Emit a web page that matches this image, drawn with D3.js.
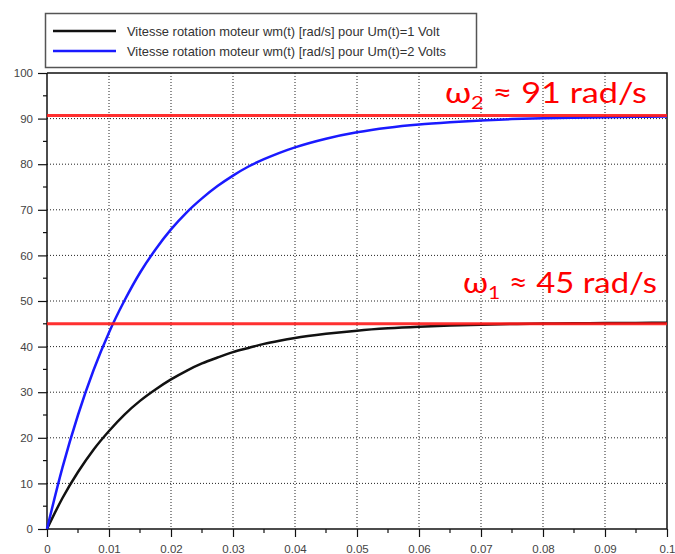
<!DOCTYPE html>
<html>
<head>
<meta charset="utf-8">
<script src="https://cdn.jsdelivr.net/npm/d3@7"></script>
<style>
  html, body { margin: 0; padding: 0; background: #fff; }
  svg { display: block; }
</style>
</head>
<body>
<svg id="chart" width="675" height="554"></svg>
<script>
// ---- data ----
const time = [0, 0.0025, 0.005, 0.0075, 0.01, 0.0125, 0.015, 0.0175, 0.02, 0.0225, 0.025, 0.0275,
  0.03, 0.0325, 0.035, 0.0375, 0.04, 0.045, 0.05, 0.055, 0.06, 0.065, 0.07, 0.075, 0.08,
  0.085, 0.09, 0.095, 0.1];
const speed1V = [0, 6.8, 12.5, 17.4, 21.5, 25.1, 28.1, 30.6, 32.8, 34.7, 36.3, 37.6,
  38.8, 39.7, 40.6, 41.3, 41.9, 42.8, 43.5, 44.0, 44.35, 44.6, 44.8, 44.95, 45.05,
  45.1, 45.15, 45.2, 45.25];
const speed2V = [0, 13.5, 25.0, 34.8, 43.1, 50.1, 56.2, 61.3, 65.7, 69.4, 72.5, 75.2,
  77.5, 79.5, 81.1, 82.5, 83.7, 85.6, 87.0, 88.0, 88.7, 89.2, 89.6, 89.9, 90.1,
  90.2, 90.3, 90.4, 90.45];
const seriesNames = [
  "Vitesse rotation moteur wm(t) [rad/s] pour Um(t)=1 Volt",
  "Vitesse rotation moteur wm(t) [rad/s] pour Um(t)=2 Volts"
];
const seriesColors = ["#111111", "#1a1aff"];
const refLevels = [90.7, 45];
const refLabels = [
  { sym: "ω", sub: "2", rest: " ≈ 91 rad/s" },
  { sym: "ω", sub: "1", rest: " ≈ 45 rad/s" }
];
const xTicks = [0, 0.01, 0.02, 0.03, 0.04, 0.05, 0.06, 0.07, 0.08, 0.09, 0.1];
const yTicks = [0, 10, 20, 30, 40, 50, 60, 70, 80, 90, 100];

// ---- layout ----
const svg = d3.select("#chart");
const L = 47, R = 667, T = 73, B = 529;
const x = d3.scaleLinear().domain([0, 0.1]).range([L, R]);
const y = d3.scaleLinear().domain([0, 100]).range([B, T]);

// grid
const grid = svg.append("g").attr("stroke", "#222").attr("stroke-width", 1)
  .attr("stroke-dasharray", "1,2");
grid.selectAll("line.gx").data(xTicks.filter(d => d > 0 && d < 0.1)).join("line")
  .attr("x1", d => x(d)).attr("x2", d => x(d)).attr("y1", T).attr("y2", B);
grid.selectAll("line.gy").data(yTicks.filter(d => d > 0 && d < 100)).join("line")
  .attr("y1", d => y(d)).attr("y2", d => y(d)).attr("x1", L).attr("x2", R);

// axes
const fmtX = d => d === 0 ? "0" : String(+d.toFixed(2));
const xAxis = d3.axisBottom(x).tickValues(xTicks).tickSize(8).tickPadding(8).tickFormat(fmtX);
const yAxis = d3.axisLeft(y).tickValues(yTicks).tickSize(9).tickPadding(5);
const gx = svg.append("g").attr("transform", `translate(0,${B})`).call(xAxis);
const gy = svg.append("g").attr("transform", `translate(${L},0)`).call(yAxis);
// minor ticks
const xMinor = d3.range(0, 10).map(i => i * 0.01 + 0.005);
const yMinor = d3.range(0, 10).map(i => i * 10 + 5);
svg.append("g").selectAll("line").data(xMinor).join("line")
  .attr("x1", d => x(d)).attr("x2", d => x(d)).attr("y1", B).attr("y2", B + 4)
  .attr("stroke", "#111").attr("stroke-width", 1.2);
svg.append("g").selectAll("line").data(yMinor).join("line")
  .attr("y1", d => y(d)).attr("y2", d => y(d)).attr("x1", L - 4).attr("x2", L)
  .attr("stroke", "#111").attr("stroke-width", 1.2);
[gx, gy].forEach(g => {
  g.select(".domain").attr("stroke", "#111").attr("stroke-width", 1.5);
  g.selectAll(".tick line").attr("stroke", "#111").attr("stroke-width", 1.2);
  g.selectAll(".tick text").attr("fill", "#444").attr("font-size", 11.5)
    .attr("font-family", "Liberation Sans, Arial, sans-serif");
});
gy.select(".domain").attr("d", `M0,${B}V${T}`);
gx.select(".domain").attr("d", `M${L},0H${R}`);
// top and right frame
svg.append("path").attr("d", `M${L},${T}H${R}V${B}`).attr("fill", "none")
  .attr("stroke", "#111").attr("stroke-width", 1.5);

// curves
const line = d3.line().x(d => x(d[0])).y(d => y(d[1])).curve(d3.curveMonotoneX);
[speed1V, speed2V].forEach((s, i) => {
  svg.append("path").datum(time.map((t, k) => [t, s[k]]))
    .attr("d", line).attr("fill", "none")
    .attr("stroke", seriesColors[i]).attr("stroke-width", 2.5);
});

// reference lines
svg.append("g").selectAll("line").data(refLevels).join("line")
  .attr("x1", L).attr("x2", R).attr("y1", d => y(d)).attr("y2", d => y(d))
  .attr("stroke", "#ff1a1a").attr("stroke-width", 3).attr("stroke-opacity", 0.9);

// annotations (stretched horizontally to the reference width)
const annPos = [[445, 103], [463, 293]];
const annWidth = [202, 194];
refLabels.forEach((a, i) => {
  const g = svg.append("g");
  const t = g.append("text").attr("x", 0).attr("y", 0)
    .attr("fill", "#ff0000").attr("font-size", 28)
    .attr("font-family", "Lato, 'Open Sans', sans-serif");
  t.append("tspan").text(a.sym);
  t.append("tspan").text(a.sub).attr("font-size", 18).attr("dy", 6);
  t.append("tspan").text(a.rest).attr("dy", -6);
  const w = t.node().getBBox().width;
  const k = annWidth[i] / w;
  g.attr("transform", `translate(${annPos[i][0]},${annPos[i][1]}) scale(${k},1)`);
});

// legend
const lg = svg.append("g");
lg.append("rect").attr("x", 45.5).attr("y", 13.5).attr("width", 431).attr("height", 54)
  .attr("fill", "#fff").attr("stroke", "#555").attr("stroke-width", 1.5);
seriesNames.forEach((n, i) => {
  const yy = 31 + i * 20;
  lg.append("line").attr("x1", 53).attr("x2", 116).attr("y1", yy).attr("y2", yy)
    .attr("stroke", seriesColors[i]).attr("stroke-width", 2.5);
  lg.append("text").attr("x", 127).attr("y", yy + 4.5).text(n)
    .attr("fill", "#333").attr("font-size", 12.9)
    .attr("font-family", "Liberation Sans, Arial, sans-serif");
});
</script>
</body>
</html>
